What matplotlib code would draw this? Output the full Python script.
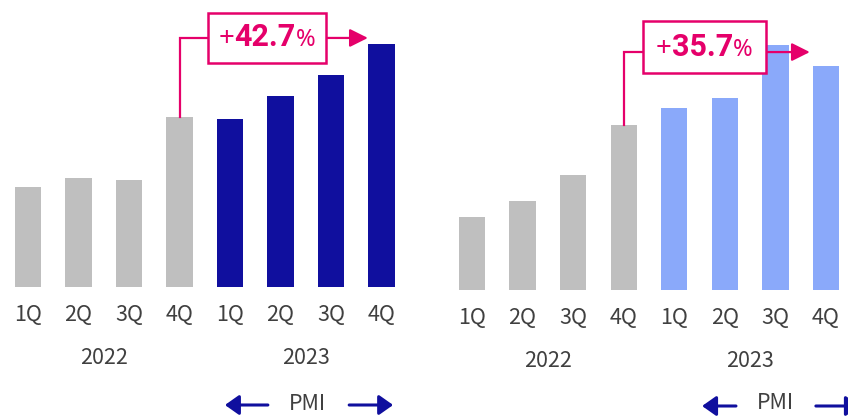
import matplotlib
matplotlib.use("Agg")
import matplotlib.pyplot as plt
from matplotlib.patches import Rectangle
from matplotlib.offsetbox import TextArea, HPacker, AnnotationBbox

plt.rcParams['font.family'] = ['Noto Sans CJK JP', 'DejaVu Sans']

quarters = ["1Q", "2Q", "3Q", "4Q", "1Q", "2Q", "3Q", "4Q"]
years = ["2022", "2023"]

# index, 4Q 2022 = 100
left_vals = [58.8, 64.1, 62.9, 100.0, 98.8, 112.4, 124.7, 142.7]
right_vals = [44.2, 53.9, 69.7, 100.0, 110.3, 116.4, 148.5, 135.7]

GRAY = "#BFBFBF"
NAVY = "#100F9E"
LIGHT = "#8AA9FA"
PINK = "#E5006A"
TEXT = "#404040"

W, H = 848, 416
fig = plt.figure(figsize=(W / 100, H / 100), dpi=100)


def make_axes(first_center, pitch, base_px, px_per_unit):
    left = first_center - pitch / 2
    ax = fig.add_axes([left / W, 1 - base_px / H, 8 * pitch / W, base_px / H])
    ax.set_xlim(-0.5, 7.5)
    ax.set_ylim(0, base_px / px_per_unit)
    ax.axis("off")
    return ax


def label(ax, s, x, dy, **kw):
    ax.annotate(s, (x, 0), xytext=(0, dy), textcoords="offset points",
                ha="center", va="center", fontsize=15.5, color=TEXT,
                annotation_clip=False, **kw)


def panel(ax, vals, new_color, box, bracket_y, arrow_tip, pmi, pmi_y, pmi_dy):
    x = range(len(vals))
    colors = [GRAY] * 4 + [new_color] * 4
    ax.bar(x, vals, width=0.52, color=colors, zorder=2)

    # quarter and year labels below the bars
    for i, q in enumerate(quarters):
        label(ax, q, i, -20)
    for j, y in enumerate(years):
        label(ax, y, 1.5 + 4 * j, -51)

    # growth bracket: 4Q 2022 -> 4Q 2023
    growth = (vals[7] / vals[3] - 1) * 100
    bx0, bx1, by0, by1 = box
    ax.plot([3, 3, bx0], [vals[3], bracket_y, bracket_y], color=PINK, lw=1.6,
            clip_on=False, zorder=3, solid_joinstyle="miter")
    ax.annotate("", xy=(arrow_tip, bracket_y), xytext=(bx1, bracket_y),
                arrowprops=dict(arrowstyle="-|>,head_length=1.1,head_width=0.55",
                                color=PINK, lw=1.6, shrinkA=0, shrinkB=0),
                annotation_clip=False, zorder=3)
    ax.add_patch(Rectangle((bx0, by0), bx1 - bx0, by1 - by0, facecolor="white",
                           edgecolor=PINK, lw=1.8, clip_on=False, zorder=4))
    parts = [TextArea("+", textprops=dict(color=PINK, fontsize=20,
                                          family="Noto Sans", fontweight="light")),
             TextArea(f"{growth:.1f}", textprops=dict(color=PINK, fontsize=22,
                                                      family="Roboto",
                                                      fontweight="bold")),
             TextArea("%", textprops=dict(color=PINK, fontsize=17,
                                          family="Noto Sans"))]
    pack = HPacker(children=parts, align="baseline", pad=0, sep=0)
    ab = AnnotationBbox(pack, ((bx0 + bx1) / 2, (by0 + by1) / 2), frameon=False,
                        box_alignment=(0.5, 0.5), annotation_clip=False, zorder=5)
    ax.add_artist(ab)

    # PMI period marker
    l_tip, l_tail, text_x, r_tail, r_tip = pmi
    for tail, tip in [(l_tail, l_tip), (r_tail, r_tip)]:
        ax.annotate("", xy=(tip, pmi_y), xytext=(tail, pmi_y),
                    arrowprops=dict(arrowstyle="-|>,head_length=0.85,head_width=0.6",
                                    color=NAVY, lw=2.2, shrinkA=0, shrinkB=0),
                    annotation_clip=False)
    label(ax, "PMI", text_x, pmi_dy)


ax1 = make_axes(28, 50.5, 287, 1.70)
ax2 = make_axes(472, 50.57, 290, 1.65)

panel(ax1, left_vals, NAVY, (3.56, 5.90, 131.8, 161.2), 146.5, 6.73,
      (3.90, 4.75, 5.54, 6.36, 7.23), -(405 - 287) / 1.70, -84)
panel(ax2, right_vals, LIGHT, (3.38, 5.81, 131.5, 163.0), 144.2, 6.68,
      (4.55, 5.22, 6.01, 6.80, 7.67), -(406 - 290) / 1.65, -81.5)

fig.savefig("out.png", dpi=100, facecolor="white")
